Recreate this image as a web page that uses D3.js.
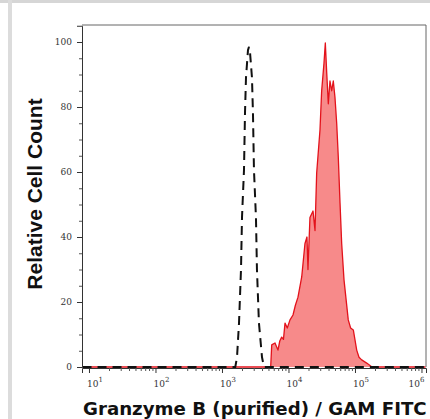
<!DOCTYPE html>
<html>
<head>
<meta charset="utf-8">
<script src="https://cdn.jsdelivr.net/npm/d3@7/dist/d3.min.js"></script>
<style>
  html, body { margin: 0; padding: 0; background: #fff; }
  svg { display: block; }
</style>
</head>
<body>
<svg id="chart" width="430" height="419"></svg>
<script>
// ---- data ----
const xDomainLog = [0.895, 6.068];           // log10 of intensity at plot edges
const yDomain = [0, 105];
const yTicks = [0, 20, 40, 60, 80, 100];
const xDecades = [1, 2, 3, 4, 5, 6];

// isotype control (dashed black)
const controlX = [8, 1585, 1683, 1803, 1932, 2000, 2143, 2218, 2296, 2460, 2547, 2636, 2825, 2924, 3027, 3243, 3357, 3597, 3999, 4285, 1150000];
const controlY = [0, 0, 3, 13.5, 30, 46, 60.6, 78, 89, 97.5, 98.5, 97, 89, 78, 60.6, 46, 30, 13.5, 3, 0, 0];

// Granzyme B stained (red filled)
const stainX = [8, 5400, 5598, 6266, 6950, 7400, 7907, 8400, 8872, 9600, 10544, 11695, 12700, 13900, 15812, 17701, 18967, 19634, 21038, 23388, 25061, 26546, 29785, 31550, 34199, 35810, 37584, 39719, 42073, 44668, 47206, 50003, 53088, 56105, 59566, 63096, 68391, 79250, 86000, 94406, 106170, 115000, 126183, 149968, 180302, 1150000];
const stainY = [0, 0, 6.8, 7.4, 5.2, 8, 9.2, 8.5, 13.5, 12, 14.5, 16, 19, 21.5, 27.7, 38, 40, 30, 46, 48, 42, 59.7, 73, 85, 93.5, 99.7, 90.5, 81, 88, 85, 88, 83, 75, 64.6, 50.5, 38, 26.8, 14.5, 12, 11.4, 5.2, 3, 2.2, 1.2, 0, 0];

const xLabel = "Granzyme B (purified) / GAM FITC";
const yLabel = "Relative Cell Count";

// ---- layout ----
const svg = d3.select("#chart");
const W = 430, H = 419;
const plot = { left: 82, right: 426, top: 25, bottom: 367 };

// page border decoration
svg.append("rect").attr("x", 0).attr("y", 0).attr("width", W).attr("height", 3).attr("fill", "#d6d6d6");
svg.append("rect").attr("x", 8).attr("y", 0).attr("width", 4).attr("height", H).attr("fill", "#dcdcdc");

const x = d3.scaleLog()
  .domain([Math.pow(10, xDomainLog[0]), Math.pow(10, xDomainLog[1])])
  .range([plot.left, plot.right]);
const y = d3.scaleLinear()
  .domain(yDomain)
  .range([plot.bottom, plot.bottom - (plot.bottom - 42) * 105 / 100]);

// clip
svg.append("clipPath").attr("id", "clip")
  .append("rect").attr("x", plot.left).attr("y", plot.top)
  .attr("width", plot.right - plot.left).attr("height", plot.bottom - plot.top + 1);

const stain = stainX.map((v, i) => [v, stainY[i]]);
const control = controlX.map((v, i) => [v, controlY[i]]);

const g = svg.append("g").attr("clip-path", "url(#clip)");

g.append("path")
  .datum(stain)
  .attr("d", d3.area().x(d => x(d[0])).y0(y(0)).y1(d => y(d[1])))
  .attr("fill", "#f78a8a");
g.append("path")
  .datum(stain)
  .attr("d", d3.line().x(d => x(d[0])).y(d => y(d[1])))
  .attr("fill", "none").attr("stroke", "#e3121b").attr("stroke-width", 1.3)
  .attr("stroke-linejoin", "round");

g.append("path")
  .datum(control)
  .attr("d", d3.line().x(d => x(d[0])).y(d => y(d[1])))
  .attr("fill", "none").attr("stroke", "#111").attr("stroke-width", 2)
  .attr("stroke-dasharray", "9,6");

// frame
svg.append("path")
  .attr("d", `M${plot.left},${plot.top}H${plot.right}V${plot.bottom}`)
  .attr("fill", "none").attr("stroke", "#666").attr("stroke-width", 1);

// y axis
const yAxis = d3.axisLeft(y).tickValues(yTicks).tickSize(5).tickPadding(5).tickFormat(d3.format("d"));
const ya = svg.append("g").attr("transform", `translate(${plot.left},0)`).call(yAxis);
ya.select(".domain").attr("stroke", "#333");
ya.selectAll(".tick line").attr("stroke", "#333");
ya.selectAll(".tick text").attr("font-family", "DejaVu Serif").attr("font-size", 9).attr("fill", "#333");
// minor y ticks
const yMinor = d3.range(5, 105, 5).filter(v => v % 20 !== 0);
svg.append("g").attr("transform", `translate(${plot.left},0)`)
  .call(d3.axisLeft(y).tickValues(yMinor).tickSize(3).tickFormat(""))
  .call(s => s.select(".domain").remove())
  .selectAll("line").attr("stroke", "#555");

// x axis
const majors = xDecades.map(d => Math.pow(10, d));
const xa = svg.append("g").attr("transform", `translate(0,${plot.bottom + 1})`)
  .call(d3.axisBottom(x).tickValues(majors).tickSize(5).tickFormat(""));
xa.select(".domain").attr("stroke", "#333");
xa.selectAll("line").attr("stroke", "#333");
const minors = [];
xDecades.slice(0, 5).forEach(d => { for (let k = 2; k <= 9; k++) minors.push(k * Math.pow(10, d)); });
svg.append("g").attr("transform", `translate(0,${plot.bottom + 1})`)
  .call(d3.axisBottom(x).tickValues(minors).tickSize(3).tickFormat(""))
  .call(s => s.select(".domain").remove())
  .selectAll("line").attr("stroke", "#555");

// x tick labels: 10^n
xDecades.forEach(d => {
  const px = x(Math.pow(10, d));
  const t = svg.append("text")
    .attr("x", d === 6 ? px - 13 : px - 2).attr("y", 387)
    .attr("font-family", "DejaVu Serif").attr("font-size", 9).attr("fill", "#333");
  t.append("tspan").text("10");
  t.append("tspan").attr("dy", -5).attr("font-size", 7).text(String(d));
});

// axis titles
svg.append("text")
  .attr("x", 83).attr("y", 415)
  .attr("font-family", "DejaVu Sans").attr("font-weight", "bold").attr("font-size", 18.2)
  .attr("fill", "#111")
  .text(xLabel);

svg.append("text")
  .attr("transform", `translate(42,194) rotate(-90)`)
  .attr("text-anchor", "middle")
  .attr("font-family", "Liberation Sans").attr("font-weight", "bold").attr("font-size", 21)
  .attr("fill", "#111")
  .text(yLabel);
</script>
</body>
</html>
